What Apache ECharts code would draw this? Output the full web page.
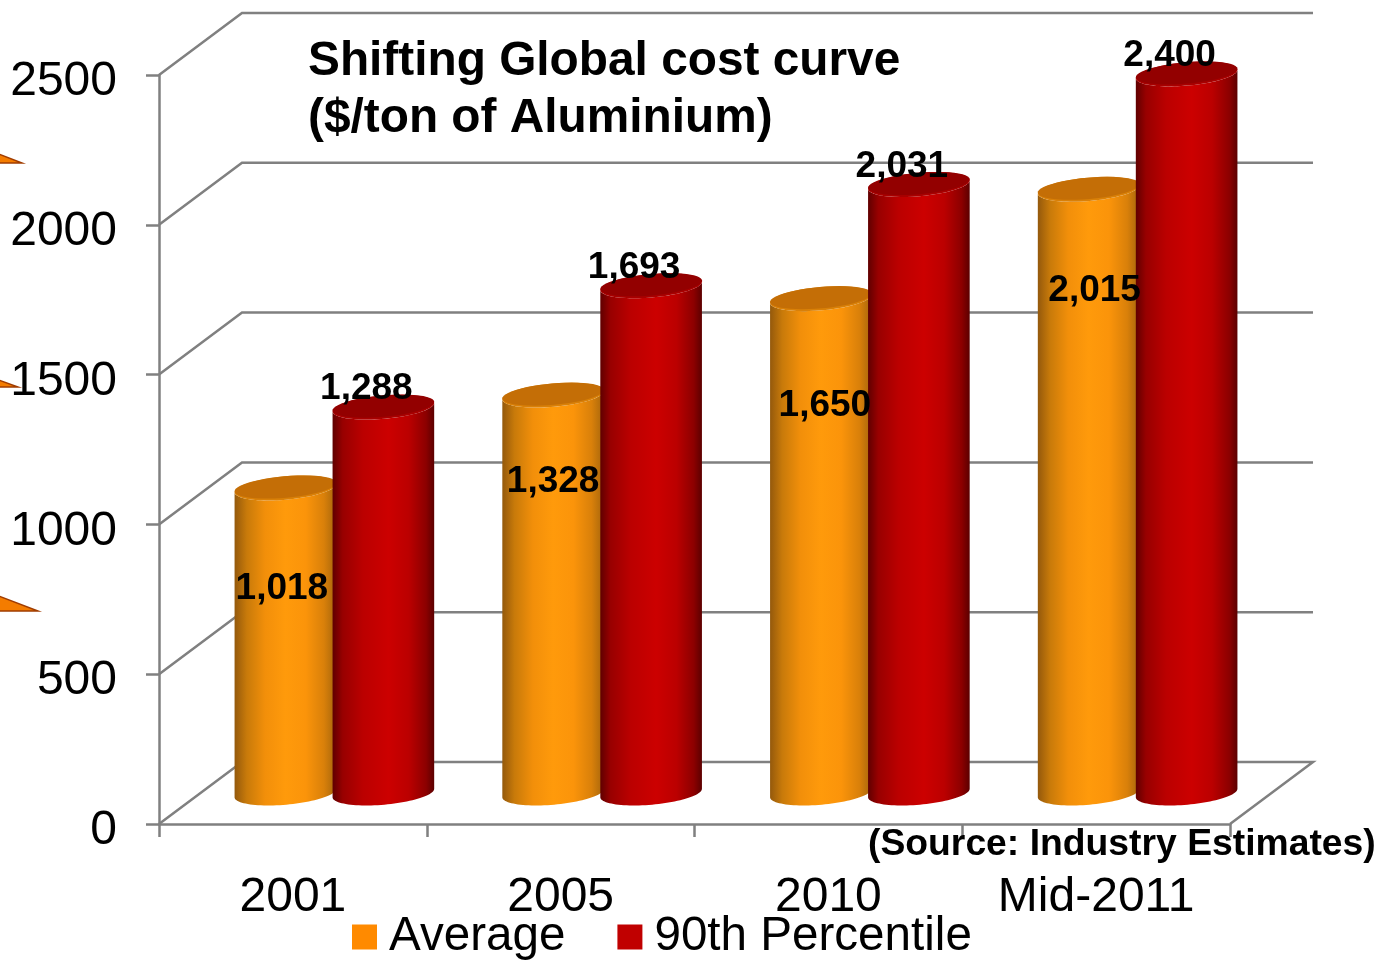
<!DOCTYPE html>
<html>
<head>
<meta charset="utf-8">
<style>html,body{margin:0;padding:0;background:#fff;overflow:hidden}#c{width:1379px;height:960px}</style>
<script src="https://cdn.jsdelivr.net/npm/echarts@6/dist/echarts.min.js"></script>
</head>
<body>
<div id="c"></div>
<script>
const categories = ['2001', '2005', '2010', 'Mid-2011'];
const averageValues = [1018, 1328, 1650, 2015];
const percentileValues = [1288, 1693, 2031, 2400];
const yTicks = [0, 500, 1000, 1500, 2000, 2500];
const seriesNames = ['Average', '90th Percentile'];

const FONT = '"Liberation Sans", Arial, sans-serif';
const DEPTH_X = 83, DEPTH_Y = 62;
const BAR_SHIFT = 49, RX = 51, RY = 11.7, TILT = 5 * Math.PI / 180;
const avgLabelShift = [[-3.5, 101], [0, 87], [4, 107], [6, 101]];

const palettes = [
  { legend: '#ff8a00', top: '#c46e06', rim: '#d98008',
    stops: [[0, '#94590c'], [0.12, '#c87a0a'], [0.3, '#f28f0a'], [0.5, '#ff9a0b'], [0.7, '#fb940a'], [0.88, '#d9800a'], [1, '#a5650c']] },
  { legend: '#c00000', top: '#930000', rim: '#a80000',
    stops: [[0, '#600000'], [0.1, '#980000'], [0.3, '#bb0000'], [0.55, '#cc0000'], [0.75, '#bb0000'], [0.92, '#8c0000'], [1, '#5c0000']] }
];

function ellipsePoint(cx, cy, t, ry) {
  const ex = RX * Math.cos(t), ey = ry * Math.sin(t);
  return [cx + ex * Math.cos(TILT) + ey * Math.sin(TILT),
          cy - ex * Math.sin(TILT) + ey * Math.cos(TILT)];
}
function arc(cx, cy, from, to, ry) {
  const pts = [];
  for (let i = 0; i <= 48; i++) pts.push(ellipsePoint(cx, cy, from + (to - from) * i / 48, ry));
  return pts;
}
function cylinderRender(sIdx) {
  const pal = palettes[sIdx];
  return function (params, api) {
    const top = api.coord([api.value(0), api.value(1)]);
    const base = api.coord([api.value(0), 0]);
    const cx = top[0] + DEPTH_X / 2 + (sIdx === 0 ? -BAR_SHIFT : BAR_SHIFT);
    const topY = top[1] - DEPTH_Y / 2, baseY = base[1] - DEPTH_Y / 2;
    const body = arc(cx, baseY, Math.PI, 0, RY).concat([ellipsePoint(cx, topY, 0, RY)], arc(cx, topY, 0, Math.PI, RY));
    return {
      type: 'group',
      children: [
        { type: 'polygon', shape: { points: body },
          style: { fill: { type: 'linear', x: 0, y: 0, x2: 1, y2: 0,
            colorStops: pal.stops.map(s => ({ offset: s[0], color: s[1] })) } } },
        { type: 'polygon', shape: { points: arc(cx, topY, 0, 2 * Math.PI, RY) },
          style: { fill: pal.rim } },
        { type: 'polygon', shape: { points: arc(cx, topY - 1, 0, 2 * Math.PI, RY - 1) },
          style: { fill: pal.top } }
      ]
    };
  };
}
function labelRender(sIdx) {
  return function (params, api) {
    const i = api.value(0), v = api.value(1);
    const top = api.coord([i, v]);
    const topY = top[1] - DEPTH_Y / 2;
    const cx = top[0] + DEPTH_X / 2 + (sIdx === 0 ? -BAR_SHIFT : BAR_SHIFT);
    const x = sIdx === 0 ? cx + avgLabelShift[i][0] : cx - 17;
    const y = sIdx === 0 ? topY + avgLabelShift[i][1] : topY - 18;
    return { type: 'text', style: { x, y, text: v.toLocaleString('en-US'), align: 'center', verticalAlign: 'middle',
      font: 'bold 37px ' + FONT, fill: '#000' } };
  };
}
function wallRender(params, api) {
  const v = api.value(0);
  const c = api.coord([0, v]);
  const x0 = params.coordSys.x, x1 = x0 + params.coordSys.width, y = c[1];
  const pts = [[x0, y], [x0 + DEPTH_X, y - DEPTH_Y], [x1 + DEPTH_X, y - DEPTH_Y]];
  if (v === 0) pts.push([x1, y]);
  return { type: 'polyline', shape: { points: pts },
    style: { fill: null, stroke: '#808080', lineWidth: 2.5 } };
}

const chart = echarts.init(document.getElementById('c'), null, { renderer: 'canvas' });
const toData = arr => arr.map((v, i) => [i, v]);
chart.setOption({
  animation: false,
  backgroundColor: '#fff',
  title: [
    { text: 'Shifting Global cost curve\n($/ton of Aluminium)', left: 308, top: 33, padding: 0,
      textStyle: { fontFamily: FONT, fontWeight: 'bold', fontSize: 47.8, lineHeight: 57, color: '#000' } },
    { text: '(Source: Industry Estimates)', left: 868, top: 826, padding: 0, z: 20,
      textStyle: { fontFamily: FONT, fontWeight: 'bold', fontSize: 37.3, lineHeight: 38, color: '#000' } }
  ],
  legend: {
    left: 352, top: 913, padding: 0, itemWidth: 25, itemHeight: 25, itemGap: 52,
    data: seriesNames.map(n => ({ name: n, icon: 'rect' })),
    textStyle: { fontFamily: FONT, fontSize: 47.6, color: '#000', padding: [8, 0, 0, 7] }
  },
  grid: { left: 159, right: 149, top: 75, bottom: 136, containLabel: false, outerBoundsMode: 'none' },
  xAxis: {
    type: 'category', data: categories,
    axisLine: { lineStyle: { color: '#808080', width: 2.5 } },
    axisTick: { show: true, alignWithLabel: false, length: 13, lineStyle: { color: '#808080', width: 2.5 } },
    axisLabel: { fontFamily: FONT, fontSize: 48, color: '#000', margin: 50, interval: 0 },
    splitLine: { show: false }
  },
  yAxis: {
    type: 'value', min: 0, max: 2500, interval: 500,
    axisLine: { show: true, lineStyle: { color: '#808080', width: 2.5 } },
    axisTick: { show: true, length: 13, lineStyle: { color: '#808080', width: 2.5 } },
    axisLabel: { fontFamily: FONT, fontSize: 48, color: '#000', margin: 42, verticalAlign: 'top', lineHeight: 14, formatter: v => String(v) },
    splitLine: { show: false }
  },
  graphic: [
    { type: 'polygon', shape: { points: [[-4, 153], [22, 163], [-4, 163]] }, style: { fill: '#f47c00', stroke: '#a03c00', lineWidth: 1.5 } },
    { type: 'polygon', shape: { points: [[-4, 379], [18, 387], [-4, 387]] }, style: { fill: '#f47c00', stroke: '#a03c00', lineWidth: 1.5 } },
    { type: 'polygon', shape: { points: [[-4, 595], [38, 611], [-4, 611]] }, style: { fill: '#f47c00', stroke: '#a03c00', lineWidth: 1.5 } }
  ],
  series: [
    { type: 'custom', name: 'walls', z: 1, silent: true, clip: false, renderItem: wallRender,
      encode: { y: 0 }, data: yTicks.map(v => [v]) },
    { type: 'custom', name: seriesNames[0], z: 3, clip: false, renderItem: cylinderRender(0),
      itemStyle: { color: palettes[0].legend }, encode: { x: 0, y: 1 }, data: toData(averageValues) },
    { type: 'custom', name: seriesNames[1], z: 4, clip: false, renderItem: cylinderRender(1),
      itemStyle: { color: palettes[1].legend }, encode: { x: 0, y: 1 }, data: toData(percentileValues) },
    { type: 'custom', name: 'avgLabels', z: 6, silent: true, clip: false, renderItem: labelRender(0),
      encode: { x: 0, y: 1 }, data: toData(averageValues) },
    { type: 'custom', name: 'p90Labels', z: 6, silent: true, clip: false, renderItem: labelRender(1),
      encode: { x: 0, y: 1 }, data: toData(percentileValues) }
  ]
});
</script>
</body>
</html>
